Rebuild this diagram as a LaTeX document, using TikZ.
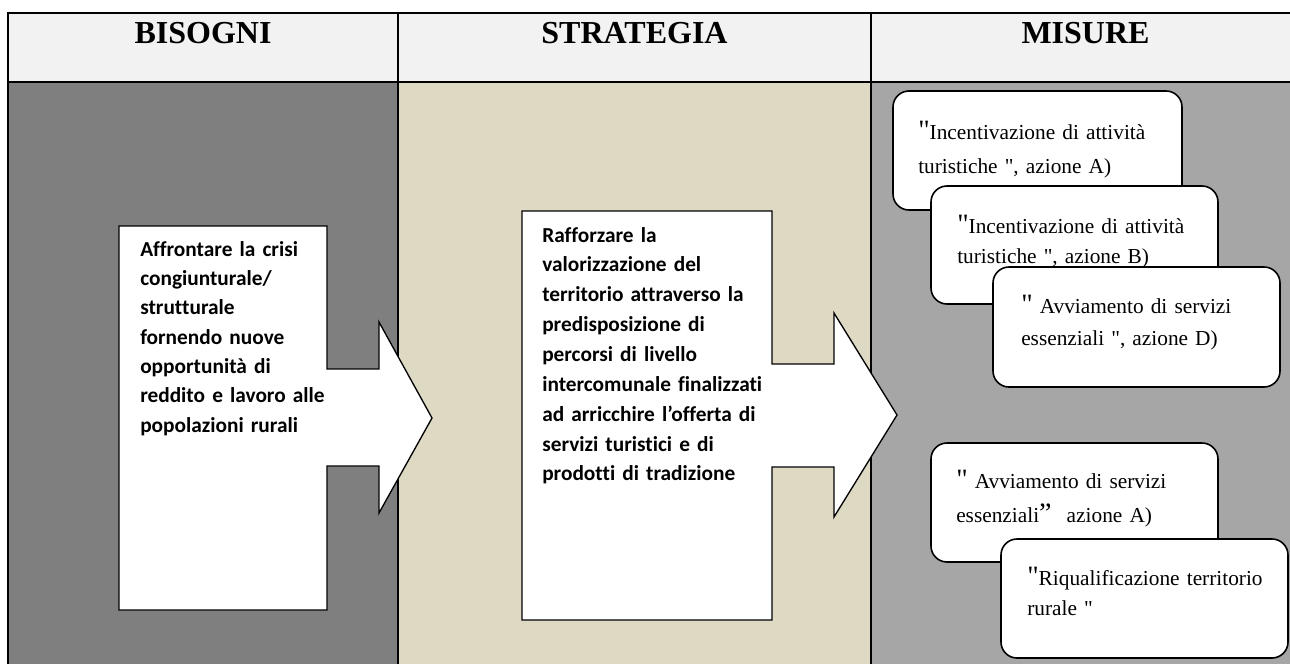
\documentclass[tikz,border=0pt]{standalone}
\usepackage{fontspec}
\setmainfont{Liberation Serif}[Ligatures=TeXOff]
\newfontfamily\calibri{Carlito}[Ligatures={NoCommon}]
\usepackage{tikz}
\usetikzlibrary{fit}
\definecolor{headgray}{RGB}{242,242,242}
\definecolor{needgray}{RGB}{127,127,127}
\definecolor{stratbeige}{RGB}{221,217,195}
\definecolor{measgray}{RGB}{166,166,166}
\newcommand{\bigquote}[1]{{\fontsize{21pt}{21pt}\selectfont #1}}

\begin{document}
\begin{tikzpicture}[x=0.75pt, y=-0.75pt,
    headtext/.style={font=\bfseries\fontsize{24pt}{28pt}\selectfont, anchor=base, inner sep=0pt},
    arrowbox/.style={draw=black, line width=1pt, fill=white, line join=miter},
    arrowtext/.style={font=\calibri\bfseries\fontsize{16pt}{#1}\selectfont, text width=175pt, align=left, anchor=base west, inner sep=0pt},
    measurebox/.style={draw=black, line width=1.2pt, fill=white, rounded corners=12pt, inner sep=0pt},
    measuretext/.style={font=\fontsize{16pt}{#1}\selectfont, text width=190pt, align=left, anchor=base west, inner sep=0pt}]
    \clip (0,0) rectangle (1290,664);
    \fill[white] (0,0) rectangle (1290,664);

    % Table background
    \fill[headgray] (8,13) rectangle (1300,82);
    \fill[needgray] (8,82) rectangle (398,680);
    \fill[stratbeige] (398,82) rectangle (871,680);
    \fill[measgray] (871,82) rectangle (1300,680);
    \draw[line width=1.5pt] (8,13) rectangle (1300,680);
    \draw[line width=1.8pt] (8,82) -- (1300,82);
    \draw[line width=1.5pt] (398,13) -- (398,680);
    \draw[line width=1.5pt] (871,13) -- (871,680);

    % Headers
    \node[headtext] (hBisogni) at (203,43) {BISOGNI};
    \node[headtext] (hStrategia) at (634.5,43) {STRATEGIA};
    \node[headtext] (hMisure) at (1085.5,43) {MISURE};

    % Bisogni arrow
    \draw[arrowbox] (119,226) -- (327,226) -- (327,369) -- (379,369) -- (379,322)
        -- (432,418) -- (379,513) -- (379,466) -- (327,466) -- (327,610)
        -- (119,610) -- cycle;
    \node[arrowtext=22pt] (needTxt) at (140,256) {
        Affrontare la crisi\\
        congiunturale/\\
        strutturale\\
        fornendo nuove\\
        opportunità di\\
        reddito e lavoro alle\\
        popolazioni rurali
    };

    % Strategia arrow
    \draw[arrowbox] (522,211) -- (772,211) -- (772,364) -- (834,364) -- (834,313)
        -- (897,415) -- (834,517) -- (834,467) -- (772,467) -- (772,620)
        -- (522,620) -- cycle;
    \node[arrowtext=22.4pt] (stratTxt) at (542,242) {
        Rafforzare la\\
        valorizzazione del\\
        territorio attraverso la\\
        predisposizione di\\
        percorsi di livello\\
        intercomunale finalizzati\\
        ad arricchire l’offerta di\\
        servizi turistici e di\\
        prodotti di tradizione
    };

    % Misure, first group
    \node[measurebox, fit={(893,91) (1182,210)}] (misA) {};
    \node[measuretext=26pt] (misAtxt) at (918,139) {\bigquote{"}Incentivazione di attività\\turistiche ", azione A)};
    \node[measurebox, fit={(931,186) (1218,304)}] (misB) {};
    \node[measuretext=23pt] (misBtxt) at (957,233) {\bigquote{"}Incentivazione di attività\\turistiche ", azione B)};
    \node[measurebox, fit={(993,267) (1280,387)}] (misD) {};
    \node[measuretext=24pt] (misDtxt) at (1021,313) {\bigquote{"} Avviamento di servizi\\essenziali ", azione D)};

    % Misure, second group
    \node[measurebox, fit={(931,443) (1218,562)}] (misSA) {};
    \node[measuretext=26pt] (misSAtxt) at (956,488) {\bigquote{"} Avviamento di servizi\\essenziali\bigquote{”}\hspace{6pt} azione A)};
    \node[measurebox, fit={(1001,539) (1288,658)}] (misR) {};
    \node[measuretext=22.5pt] (misRtxt) at (1027,585) {\bigquote{"}Riqualificazione territorio\\rurale "};
\end{tikzpicture}
\end{document}
